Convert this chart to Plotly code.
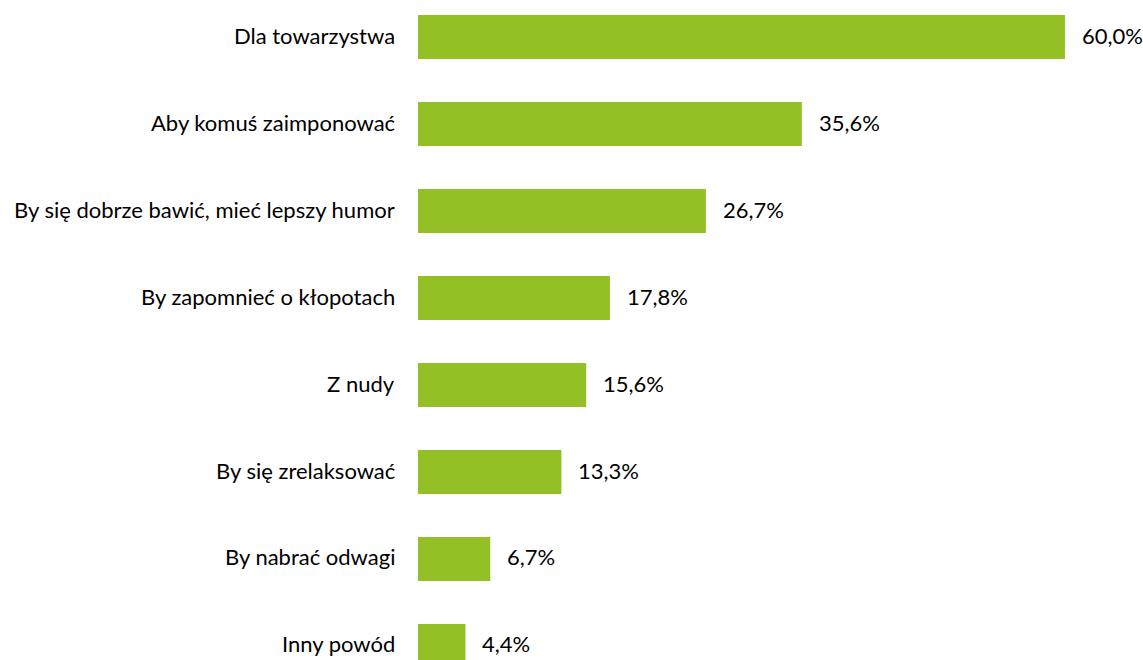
import plotly.graph_objects as go

categories = [
    "Dla towarzystwa",
    "Aby komuś zaimponować",
    "By się dobrze bawić, mieć lepszy humor",
    "By zapomnieć o kłopotach",
    "Z nudy",
    "By się zrelaksować",
    "By nabrać odwagi",
    "Inny powód",
]
values = [60.0, 35.6, 26.7, 17.8, 15.6, 13.3, 6.7, 4.4]
value_labels = ["60,0%", "35,6%", "26,7%", "17,8%", "15,6%", "13,3%", "6,7%", "4,4%"]

GREEN = "#93C125"
FONT = "Lato"
FS = 22

fig = go.Figure()
fig.add_trace(go.Bar(
    y=categories, x=values, orientation="h",
    marker=dict(color=GREEN, line=dict(width=0)),
    width=0.506,
    hoverinfo="skip",
))

annotations = []
for c, v, t in zip(categories, values, value_labels):
    annotations.append(dict(x=v, y=c, xref="x", yref="y", text=t, showarrow=False,
                            xanchor="left", yanchor="middle", xshift=15, yshift=2,
                            font=dict(family=FONT, size=FS, color="#000000")))
    annotations.append(dict(x=0, y=c, xref="paper", yref="y", text=c, showarrow=False,
                            xanchor="right", yanchor="middle", xshift=-21, yshift=2,
                            font=dict(family=FONT, size=FS, color="#000000")))

fig.update_layout(
    width=1143, height=660,
    margin=dict(l=418, r=0, t=0, b=0),
    paper_bgcolor="white", plot_bgcolor="white",
    showlegend=False,
    annotations=annotations,
    xaxis=dict(range=[0, 67.24], visible=False, fixedrange=True),
    yaxis=dict(range=[7.161, -0.4253], showticklabels=False, showgrid=False,
               zeroline=False, showline=False, ticks="", fixedrange=True),
)

fig.write_html("out.html", config={"displayModeBar": False},
               post_script="document.body.style.margin='0';")
